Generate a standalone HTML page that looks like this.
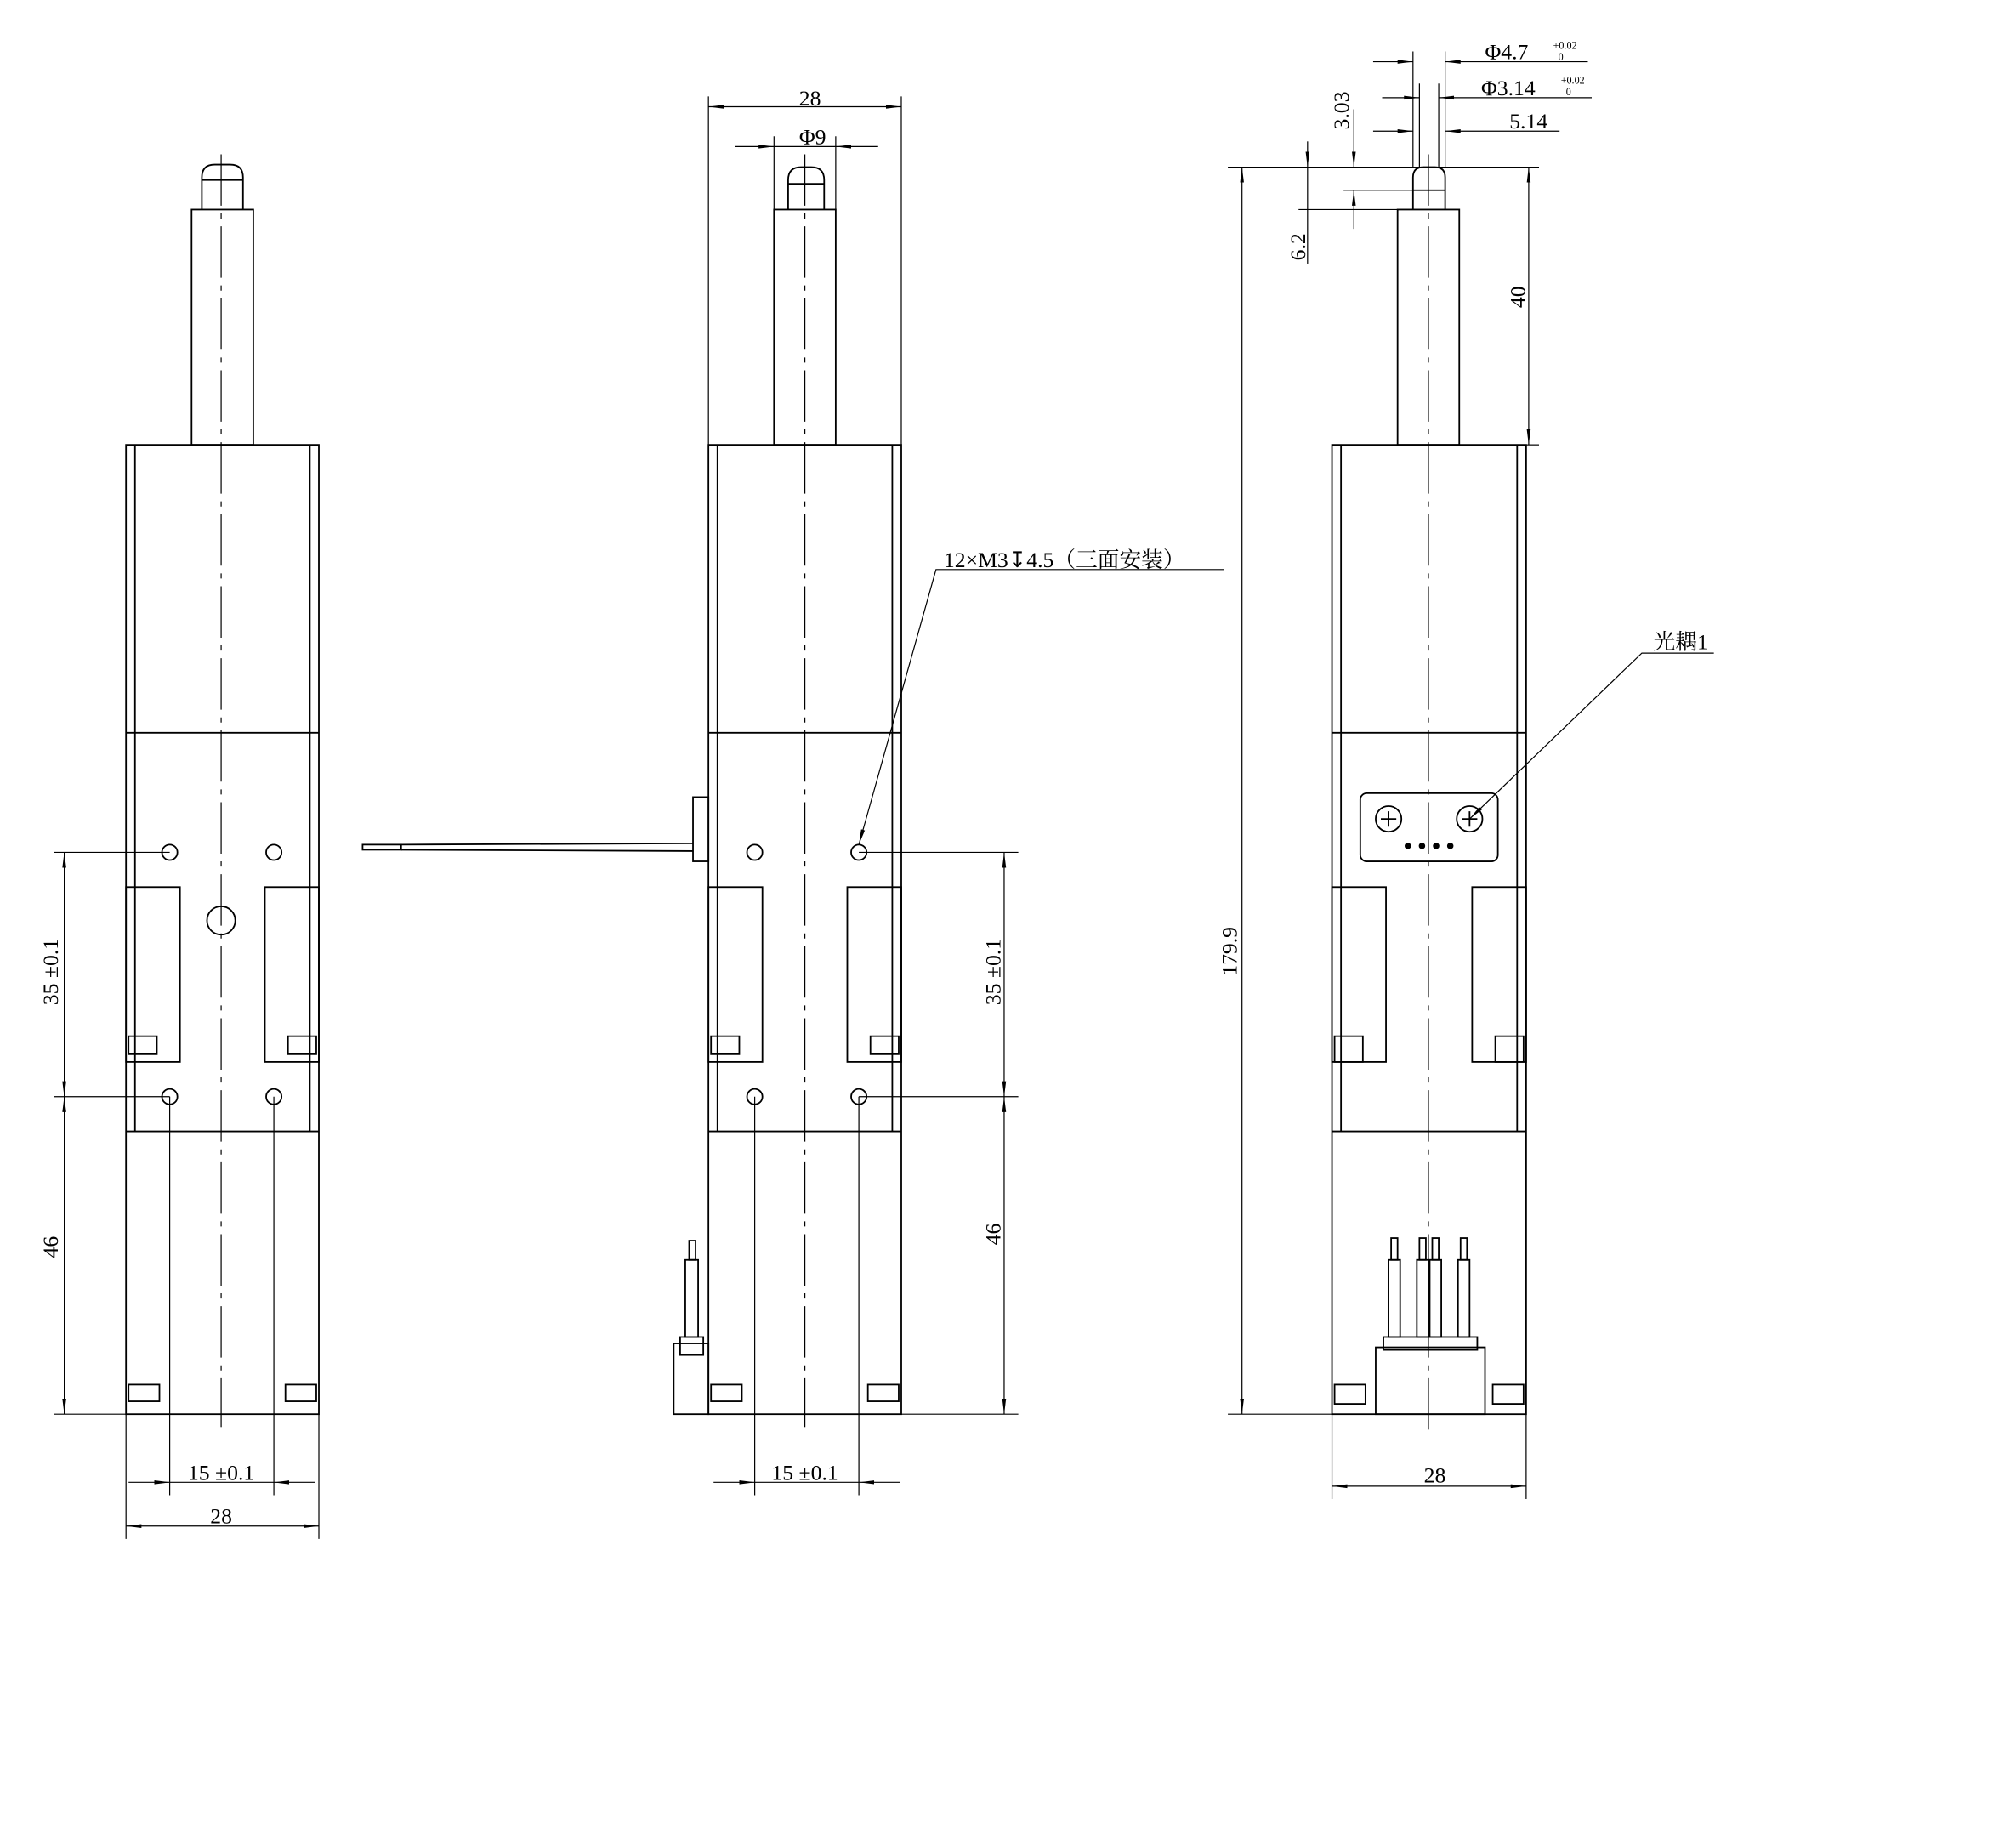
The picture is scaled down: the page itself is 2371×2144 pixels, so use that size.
<!DOCTYPE html>
<html><head><meta charset="utf-8"><style>
html,body{margin:0;padding:0;background:#fff;}
svg{display:block;}
text{font-family:"Liberation Serif","Noto Serif CJK SC",serif;fill:#000;}
</style></head><body>
<svg width="2371" height="2144" viewBox="0 0 1568 1418" preserveAspectRatio="none" xmlns="http://www.w3.org/2000/svg">
<defs>
<marker id="a" markerWidth="12" markerHeight="6" refX="12" refY="3" orient="auto-start-reverse" markerUnits="userSpaceOnUse"><path d="M0,1.5 L12,3 L0,4.5 Z" fill="#000"/></marker>
</defs>
<g fill="none" stroke="#000" stroke-width="1.2">
<!-- ===== LEFT VIEW ===== -->
<path d="M157,163 V138 Q157,128 167,128 H179 Q189,128 189,138 V163"/>
<line x1="157" y1="140" x2="189" y2="140"/>
<rect x="149" y="163" width="48" height="183"/>
<rect x="98" y="346" width="150" height="754"/>
<line x1="105" y1="346" x2="105" y2="880"/><line x1="241" y1="346" x2="241" y2="880"/>
<line x1="98" y1="570" x2="248" y2="570"/><line x1="98" y1="880" x2="248" y2="880"/>
<rect x="98" y="690" width="42" height="136"/><rect x="206" y="690" width="42" height="136"/>
<rect x="100" y="806" width="22" height="14"/><rect x="224" y="806" width="22" height="14"/>
<rect x="100" y="1077" width="24" height="13"/><rect x="222" y="1077" width="24" height="13"/>
<circle cx="132" cy="663" r="6"/><circle cx="213" cy="663" r="6"/>
<circle cx="132" cy="853" r="6"/><circle cx="213" cy="853" r="6"/>
<circle cx="172" cy="716" r="11"/>
<line x1="172" y1="120" x2="172" y2="1110" stroke-width="0.8" stroke-dasharray="40,6,4,6"/>
<!-- dims left -->
<line x1="42" y1="663" x2="132" y2="663" stroke-width="0.8"/>
<line x1="42" y1="853" x2="132" y2="853" stroke-width="0.8"/>
<line x1="42" y1="1100" x2="98" y2="1100" stroke-width="0.8"/>
<line x1="50" y1="663" x2="50" y2="853" stroke-width="0.8" marker-start="url(#a)" marker-end="url(#a)"/>
<line x1="50" y1="853" x2="50" y2="1100" stroke-width="0.8" marker-start="url(#a)" marker-end="url(#a)"/>
<line x1="132" y1="853" x2="132" y2="1163" stroke-width="0.8"/>
<line x1="213" y1="853" x2="213" y2="1163" stroke-width="0.8"/>
<line x1="98" y1="1100" x2="98" y2="1197" stroke-width="0.8"/>
<line x1="248" y1="1100" x2="248" y2="1197" stroke-width="0.8"/>
<line x1="100" y1="1153" x2="132" y2="1153" stroke-width="0.8" marker-end="url(#a)"/>
<line x1="213" y1="1153" x2="245" y2="1153" stroke-width="0.8" marker-start="url(#a)"/>
<line x1="132" y1="1153" x2="213" y2="1153" stroke-width="0.8"/>
<line x1="98" y1="1187" x2="248" y2="1187" stroke-width="0.8" marker-start="url(#a)" marker-end="url(#a)"/>

<!-- ===== MIDDLE VIEW ===== -->
<path d="M613,163 V140 Q613,130 623,130 H631 Q641,130 641,140 V163"/>
<line x1="613" y1="143" x2="641" y2="143"/>
<rect x="602" y="163" width="48" height="183"/>
<rect x="551" y="346" width="150" height="754"/>
<line x1="558" y1="346" x2="558" y2="880"/><line x1="694" y1="346" x2="694" y2="880"/>
<line x1="551" y1="570" x2="701" y2="570"/><line x1="551" y1="880" x2="701" y2="880"/>
<rect x="551" y="690" width="42" height="136"/><rect x="659" y="690" width="42" height="136"/>
<rect x="553" y="806" width="22" height="14"/><rect x="677" y="806" width="22" height="14"/>
<rect x="553" y="1077" width="24" height="13"/><rect x="675" y="1077" width="24" height="13"/>
<circle cx="587" cy="663" r="6"/><circle cx="668" cy="663" r="6"/>
<circle cx="587" cy="853" r="6"/><circle cx="668" cy="853" r="6"/>
<line x1="626" y1="120" x2="626" y2="1110" stroke-width="0.8" stroke-dasharray="40,6,4,6"/>
<rect x="539" y="620" width="12" height="50"/>
<rect x="282" y="657" width="30" height="4"/>
<line x1="312" y1="657" x2="539" y2="656"/><line x1="312" y1="661" x2="539" y2="662"/>
<rect x="524" y="1045" width="27" height="55"/>
<rect x="529" y="1040" width="18" height="14"/>
<rect x="533" y="980" width="10" height="60"/>
<rect x="536" y="965" width="5" height="15"/>
<!-- dims middle -->
<line x1="551" y1="75" x2="551" y2="346" stroke-width="0.8"/>
<line x1="701" y1="75" x2="701" y2="346" stroke-width="0.8"/>
<line x1="551" y1="83" x2="701" y2="83" stroke-width="0.8" marker-start="url(#a)" marker-end="url(#a)"/>
<line x1="602" y1="106" x2="602" y2="163" stroke-width="0.8"/>
<line x1="650" y1="106" x2="650" y2="163" stroke-width="0.8"/>
<line x1="572" y1="114" x2="602" y2="114" stroke-width="0.8" marker-end="url(#a)"/>
<line x1="650" y1="114" x2="683" y2="114" stroke-width="0.8" marker-start="url(#a)"/>
<line x1="602" y1="114" x2="650" y2="114" stroke-width="0.8"/>
<line x1="668" y1="663" x2="792" y2="663" stroke-width="0.8"/>
<line x1="668" y1="853" x2="792" y2="853" stroke-width="0.8"/>
<line x1="701" y1="1100" x2="792" y2="1100" stroke-width="0.8"/>
<line x1="781" y1="663" x2="781" y2="853" stroke-width="0.8" marker-start="url(#a)" marker-end="url(#a)"/>
<line x1="781" y1="853" x2="781" y2="1100" stroke-width="0.8" marker-start="url(#a)" marker-end="url(#a)"/>
<line x1="587" y1="853" x2="587" y2="1163" stroke-width="0.8"/>
<line x1="668" y1="853" x2="668" y2="1163" stroke-width="0.8"/>
<line x1="555" y1="1153" x2="587" y2="1153" stroke-width="0.8" marker-end="url(#a)"/>
<line x1="668" y1="1153" x2="700" y2="1153" stroke-width="0.8" marker-start="url(#a)"/>
<line x1="587" y1="1153" x2="668" y2="1153" stroke-width="0.8"/>
<polyline points="952,443 728,443 668,657" stroke-width="0.8" marker-end="url(#a)"/>

<!-- ===== RIGHT VIEW ===== -->
<path d="M1099,163 V138 Q1099,130 1107,130 H1116 Q1124,130 1124,138 V163"/>
<line x1="1099" y1="148" x2="1124" y2="148"/>
<rect x="1087" y="163" width="48" height="183"/>
<rect x="1036" y="346" width="151" height="754"/>
<line x1="1043" y1="346" x2="1043" y2="880"/><line x1="1180" y1="346" x2="1180" y2="880"/>
<line x1="1036" y1="570" x2="1187" y2="570"/><line x1="1036" y1="880" x2="1187" y2="880"/>
<rect x="1036" y="690" width="42" height="136"/><rect x="1145" y="690" width="42" height="136"/>
<rect x="1038" y="806" width="22" height="20"/><rect x="1163" y="806" width="22" height="20"/>
<rect x="1038" y="1077" width="24" height="15"/><rect x="1161" y="1077" width="24" height="15"/>
<rect x="1058" y="617" width="107" height="53" rx="5"/>
<circle cx="1080" cy="637" r="10"/><circle cx="1143" cy="637" r="10"/>
<path d="M1074,637 H1086 M1080,631 V643 M1137,637 H1149 M1143,631 V643"/>
<line x1="1111" y1="120" x2="1111" y2="1118" stroke-width="0.8" stroke-dasharray="40,6,4,6"/>
<rect x="1070" y="1048" width="85" height="52"/>
<rect x="1076" y="1040" width="73" height="10"/>
<rect x="1080" y="980" width="9" height="60"/><rect x="1102" y="980" width="9" height="60"/>
<rect x="1112" y="980" width="9" height="60"/><rect x="1134" y="980" width="9" height="60"/>
<rect x="1082" y="963" width="5" height="17"/><rect x="1104" y="963" width="5" height="17"/>
<rect x="1114" y="963" width="5" height="17"/><rect x="1136" y="963" width="5" height="17"/>
<!-- dims right -->
<line x1="955" y1="130" x2="1197" y2="130" stroke-width="0.8"/>
<line x1="955" y1="1100" x2="1036" y2="1100" stroke-width="0.8"/>
<line x1="966" y1="130" x2="966" y2="1100" stroke-width="0.8" marker-start="url(#a)" marker-end="url(#a)"/>
<line x1="1187" y1="346" x2="1197" y2="346" stroke-width="0.8"/>
<line x1="1189" y1="130" x2="1189" y2="346" stroke-width="0.8" marker-start="url(#a)" marker-end="url(#a)"/>
<line x1="1036" y1="1100" x2="1036" y2="1166" stroke-width="0.8"/>
<line x1="1187" y1="1100" x2="1187" y2="1166" stroke-width="0.8"/>
<line x1="1036" y1="1156" x2="1187" y2="1156" stroke-width="0.8" marker-start="url(#a)" marker-end="url(#a)"/>
<line x1="1010" y1="163" x2="1087" y2="163" stroke-width="0.8"/>
<line x1="1045" y1="148" x2="1099" y2="148" stroke-width="0.8"/>
<line x1="1017" y1="110" x2="1017" y2="130" stroke-width="0.8" marker-end="url(#a)"/>
<line x1="1017" y1="130" x2="1017" y2="205" stroke-width="0.8"/>
<line x1="1017" y1="163" x2="1017" y2="163" stroke-width="0.8"/>
<line x1="1053" y1="85" x2="1053" y2="130" stroke-width="0.8" marker-end="url(#a)"/>
<line x1="1053" y1="148" x2="1053" y2="178" stroke-width="0.8" marker-start="url(#a)"/>
<line x1="1099" y1="40" x2="1099" y2="130" stroke-width="0.8"/>
<line x1="1124" y1="40" x2="1124" y2="130" stroke-width="0.8"/>
<line x1="1104" y1="65" x2="1104" y2="130" stroke-width="0.8"/>
<line x1="1119" y1="65" x2="1119" y2="130" stroke-width="0.8"/>
<line x1="1068" y1="48" x2="1099" y2="48" stroke-width="0.8" marker-end="url(#a)"/>
<line x1="1124" y1="48" x2="1235" y2="48" stroke-width="0.8" marker-start="url(#a)"/>
<line x1="1075" y1="76" x2="1104" y2="76" stroke-width="0.8" marker-end="url(#a)"/>
<line x1="1119" y1="76" x2="1238" y2="76" stroke-width="0.8" marker-start="url(#a)"/>
<line x1="1068" y1="102" x2="1099" y2="102" stroke-width="0.8" marker-end="url(#a)"/>
<line x1="1124" y1="102" x2="1213" y2="102" stroke-width="0.8" marker-start="url(#a)"/>
<polyline points="1333,508 1277,508 1143,637" stroke-width="0.8" marker-end="url(#a)"/>
</g>
<g fill="#000">
<circle cx="1095" cy="658" r="2.5"/><circle cx="1106" cy="658" r="2.5"/><circle cx="1117" cy="658" r="2.5"/><circle cx="1128" cy="658" r="2.5"/>
</g>
<g font-size="17">
<text x="45" y="756" transform="rotate(-90 45 756)" text-anchor="middle">35 ±0.1</text>
<text x="45" y="970" transform="rotate(-90 45 970)" text-anchor="middle">46</text>
<text x="172" y="1151" text-anchor="middle">15 ±0.1</text>
<text x="172" y="1185" text-anchor="middle">28</text>
<text x="630" y="82" text-anchor="middle">28</text>
<text x="632" y="112" text-anchor="middle">Φ9</text>
<text x="626" y="1151" text-anchor="middle">15 ±0.1</text>
<text x="778" y="756" transform="rotate(-90 778 756)" text-anchor="middle">35 ±0.1</text>
<text x="778" y="960" transform="rotate(-90 778 960)" text-anchor="middle">46</text>
<text x="734" y="441">12×M3↧4.5（三面安装）</text>
<text x="962" y="740" transform="rotate(-90 962 740)" text-anchor="middle">179.9</text>
<text x="1186" y="231" transform="rotate(-90 1186 231)" text-anchor="middle">40</text>
<text x="1116" y="1153" text-anchor="middle">28</text>
<text x="1015" y="192" transform="rotate(-90 1015 192)" text-anchor="middle">6.2</text>
<text x="1049" y="86" transform="rotate(-90 1049 86)" text-anchor="middle">3.03</text>
<text x="1155" y="46">Φ4.7</text>
<text x="1152" y="74">Φ3.14</text>
<text x="1174" y="100">5.14</text>
<text x="1286" y="505">光耦1</text>
</g>
<g font-size="8">
<text x="1208" y="38">+0.02</text><text x="1212" y="47">0</text>
<text x="1214" y="65">+0.02</text><text x="1218" y="74">0</text>
</g>
</svg>
</body></html>
